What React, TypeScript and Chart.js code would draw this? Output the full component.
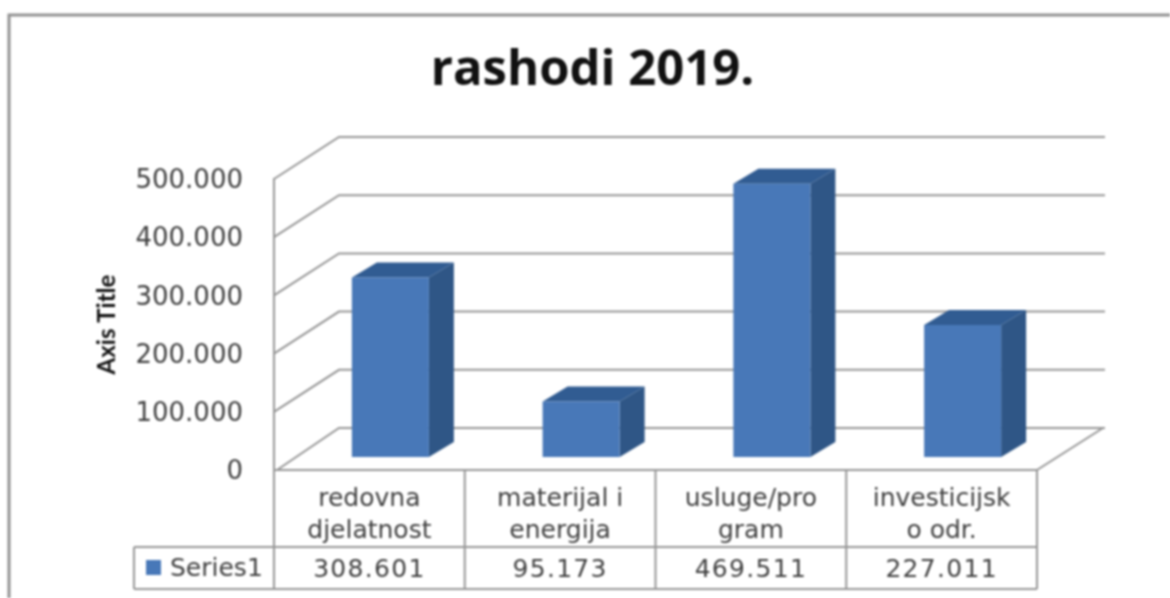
import React, { useEffect, useRef } from "react";
import { Chart, registerables } from "chart.js";

Chart.register(...registerables);

const categories = [
  ["redovna", "djelatnost"],
  ["materijal i", "energija"],
  ["usluge/pro", "gram"],
  ["investicijsk", "o odr."],
];
const seriesName = "Series1";
const values = [308601, 95173, 469511, 227011];
const titleText = "rashodi 2019.";
const axisTitle = "Axis Title";

const fmt = (v: number) => {
  const s = String(Math.round(v));
  return s.replace(/\B(?=(\d{3})+(?!\d))/g, ".");
};

const LINE = "#969696";
const TEXT = "#404040";
const FRONT = "#4878b8";
const SIDE = "#2f5686";
const TOP = "#315c92";
const TABLE_FONT = "25px 'DejaVu Sans'";

const depth3d = {
  id: "depth3d",
  beforeDraw(chart: any) {
    const { ctx, width, height } = chart;
    ctx.save();
    ctx.fillStyle = "#ffffff";
    ctx.fillRect(0, 0, width, height);
    ctx.strokeStyle = "#929292";
    ctx.lineWidth = 3;
    ctx.beginPath();
    ctx.moveTo(width, 15);
    ctx.lineTo(9, 15);
    ctx.lineTo(9, height);
    ctx.stroke();
    ctx.restore();
  },
  beforeDatasetsDraw(chart: any) {
    const { ctx, chartArea, scales } = chart;
    const wallDx = 65;
    const wallDy = -42;
    ctx.save();
    ctx.strokeStyle = LINE;
    ctx.lineWidth = 2;
    const y0 = scales.y.getPixelForValue(0);
    scales.y.ticks.forEach((t: any) => {
      const y = scales.y.getPixelForValue(t.value);
      ctx.beginPath();
      ctx.moveTo(chartArea.left + (t.value === 0 ? 3 : 0), y);
      ctx.lineTo(chartArea.left + wallDx, y + wallDy);
      ctx.lineTo(chartArea.right + 68, y + wallDy);
      ctx.stroke();
    });
    ctx.beginPath();
    ctx.moveTo(chartArea.right + 66, y0 + wallDy);
    ctx.lineTo(chartArea.right, y0);
    ctx.stroke();
    ctx.restore();

    // bars sit inside the floor: shift the library's bars and add their side and top faces
    ctx.save();
    ctx.translate(21, -13);
    const dx = 25;
    const dy = -15;
    chart.getDatasetMeta(0).data.forEach((el: any) => {
      const l = el.x - el.width / 2;
      const r = el.x + el.width / 2;
      ctx.fillStyle = SIDE;
      ctx.beginPath();
      ctx.moveTo(r, el.y);
      ctx.lineTo(r + dx, el.y + dy);
      ctx.lineTo(r + dx, el.base + dy);
      ctx.lineTo(r, el.base);
      ctx.closePath();
      ctx.fill();
      ctx.fillStyle = TOP;
      ctx.beginPath();
      ctx.moveTo(l, el.y);
      ctx.lineTo(l + dx, el.y + dy);
      ctx.lineTo(r + dx, el.y + dy);
      ctx.lineTo(r, el.y);
      ctx.closePath();
      ctx.fill();
    });
  },
  afterDatasetsDraw(chart: any) {
    chart.ctx.restore();
  },
  afterDraw(chart: any) {
    const { ctx, chartArea, scales } = chart;
    const x = scales.x;
    const band = (chartArea.right - chartArea.left) / categories.length;
    const top = chartArea.bottom;
    const mid = top + 77;
    const bottom = top + 119;
    const legendLeft = 134;
    ctx.save();
    ctx.strokeStyle = LINE;
    ctx.lineWidth = 2;
    ctx.beginPath();
    for (let i = 0; i <= categories.length; i++) {
      const px = chartArea.left + i * band;
      ctx.moveTo(px, top);
      ctx.lineTo(px, bottom);
    }
    ctx.moveTo(legendLeft, mid);
    ctx.lineTo(chartArea.right, mid);
    ctx.moveTo(legendLeft, bottom);
    ctx.lineTo(chartArea.right, bottom);
    ctx.moveTo(legendLeft, mid);
    ctx.lineTo(legendLeft, bottom);
    ctx.stroke();

    ctx.fillStyle = TEXT;
    ctx.font = TABLE_FONT;
    ctx.textAlign = "center";
    ctx.textBaseline = "middle";
    (ctx as any).letterSpacing = "1.3px";
    values.forEach((v, i) => {
      ctx.fillText(fmt(v), x.getPixelForValue(i), (mid + bottom) / 2 + 2);
    });
    (ctx as any).letterSpacing = "0px";
    ctx.fillStyle = FRONT;
    ctx.fillRect(legendLeft + 12, mid + 13, 15, 15);
    ctx.fillStyle = TEXT;
    ctx.textAlign = "left";
    ctx.fillText(seriesName, legendLeft + 36, (mid + bottom) / 2 + 1);
    ctx.restore();
  },
};

export default function App() {
  const ref = useRef<HTMLCanvasElement | null>(null);

  useEffect(() => {
    document.body.style.margin = "0";
    const chart = new Chart(ref.current as HTMLCanvasElement, {
      type: "bar",
      data: {
        labels: categories as any,
        datasets: [
          {
            label: seriesName,
            data: values,
            backgroundColor: FRONT,
            borderWidth: 0,
            barPercentage: 77 / 190.75,
            categoryPercentage: 1,
            clip: false as any,
          },
        ],
      },
      options: {
        animation: false,
        responsive: false,
        layout: { padding: { left: 15, right: 0, top: 0, bottom: 0 } },
        plugins: {
          legend: { display: false },
          tooltip: { enabled: false },
          title: {
            display: true,
            text: titleText,
            color: "#111111",
            font: { family: "'Open Sans'", size: 49, weight: "bold", lineHeight: 1.2 },
            padding: { top: 42, bottom: 78.2 },
          },
        },
        scales: {
          x: {
            offset: true,
            grid: { display: false },
            border: { display: true, color: LINE, width: 2 },
            ticks: {
              color: TEXT,
              font: { family: "'DejaVu Sans'", size: 25, lineHeight: 32 / 25 },
              padding: 5,
              maxRotation: 0,
              minRotation: 0,
              autoSkip: false,
            },
            afterFit: (s: any) => {
              s.height = 128;
            },
          },
          y: {
            min: 0,
            max: 500000,
            position: "left",
            grid: { display: false, drawTicks: false },
            border: { display: true, color: LINE, width: 2 },
            ticks: {
              stepSize: 100000,
              color: TEXT,
              font: { family: "'DejaVu Sans'", size: 26 },
              padding: 31,
              labelOffset: 2.5,
              callback: (v: any) => fmt(Number(v)),
            },
            title: {
              display: true,
              text: axisTitle,
              color: "#111111",
              font: { family: "Lato", size: 24, weight: "bold", lineHeight: 1.2 },
              padding: { top: 78, bottom: 0 },
            },
            afterFit: (s: any) => {
              s.width = 259;
            },
          },
          yR: {
            type: "linear",
            position: "right",
            display: true,
            grid: { display: false },
            border: { display: false },
            ticks: { display: false },
            afterFit: (s: any) => {
              s.width = 133;
            },
          },
        },
      },
      plugins: [depth3d],
    } as any);
    return () => chart.destroy();
  }, []);

  return (
    <canvas
      ref={ref}
      width={1170}
      height={598}
      style={{ display: "block", width: 1170, height: 598, filter: "blur(0.8px)" }}
    />
  );
}
